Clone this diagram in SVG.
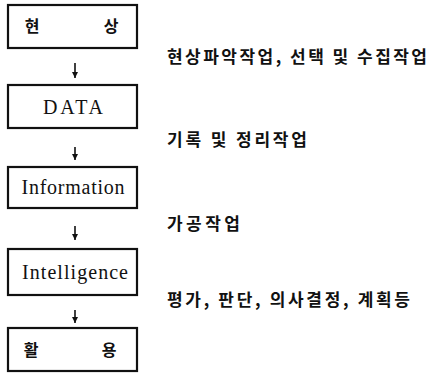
<svg xmlns="http://www.w3.org/2000/svg" width="434" height="376" viewBox="0 0 434 376">
<style>
.box{fill:#fff;stroke:#111;stroke-width:2.2}
.en{font-family:"Liberation Serif","Times New Roman",serif;font-size:20px;fill:#111}
.ko{font-family:"Noto Sans CJK KR","Noto Sans",sans-serif;font-weight:bold;font-size:16px;fill:#111}
.lbl{font-family:"Noto Sans CJK KR","Noto Sans",sans-serif;font-weight:bold;font-size:17px;fill:#111}
.arr{stroke:#111;stroke-width:1.6}
</style>
<defs>
<marker id="ah" viewBox="0 0 6 6" refX="6" refY="3" markerWidth="6" markerHeight="6" markerUnits="userSpaceOnUse" orient="auto">
<path d="M0,0 L6,3 L0,6 Z" fill="#111"/>
</marker>
</defs>
<g id="n1"><rect class="box" x="8" y="5" width="129" height="43"/><text class="ko" x="32" y="32" text-anchor="middle">현</text><text class="ko" x="111" y="32" text-anchor="middle">상</text></g>
<g id="n2"><rect class="box" x="8" y="85" width="129" height="43"/><text class="en" x="73" y="114" text-anchor="middle" textLength="60" lengthAdjust="spacing">DATA</text></g>
<g id="n3"><rect class="box" x="8" y="167" width="129" height="41"/><text class="en" x="73" y="194" text-anchor="middle" textLength="103" lengthAdjust="spacing">Information</text></g>
<g id="n4"><rect class="box" x="8" y="249" width="129" height="46"/><text class="en" x="75" y="279" text-anchor="middle" textLength="106" lengthAdjust="spacing">Intelligence</text></g>
<g id="n5"><rect class="box" x="8" y="328" width="129" height="43"/><text class="ko" x="31" y="356" text-anchor="middle">활</text><text class="ko" x="109" y="356" text-anchor="middle">용</text></g>
<g id="connectors">
<line class="arr" x1="75" y1="63" x2="75" y2="78" marker-end="url(#ah)"/>
<line class="arr" x1="75" y1="147" x2="75" y2="160" marker-end="url(#ah)"/>
<line class="arr" x1="75" y1="226" x2="75" y2="240" marker-end="url(#ah)"/>
<line class="arr" x1="75" y1="310" x2="75" y2="323" marker-end="url(#ah)"/>
</g>
<g id="labels">
<text class="lbl" x="167" y="63" textLength="260" lengthAdjust="spacing">현상파악작업, 선택 및 수집작업</text>
<text class="lbl" x="167" y="146" textLength="140" lengthAdjust="spacing">기록 및 정리작업</text>
<text class="lbl" x="167" y="230" textLength="73" lengthAdjust="spacing">가공작업</text>
<text class="lbl" x="167" y="306" textLength="243" lengthAdjust="spacing">평가, 판단, 의사결정, 계획등</text>
</g>
</svg>
